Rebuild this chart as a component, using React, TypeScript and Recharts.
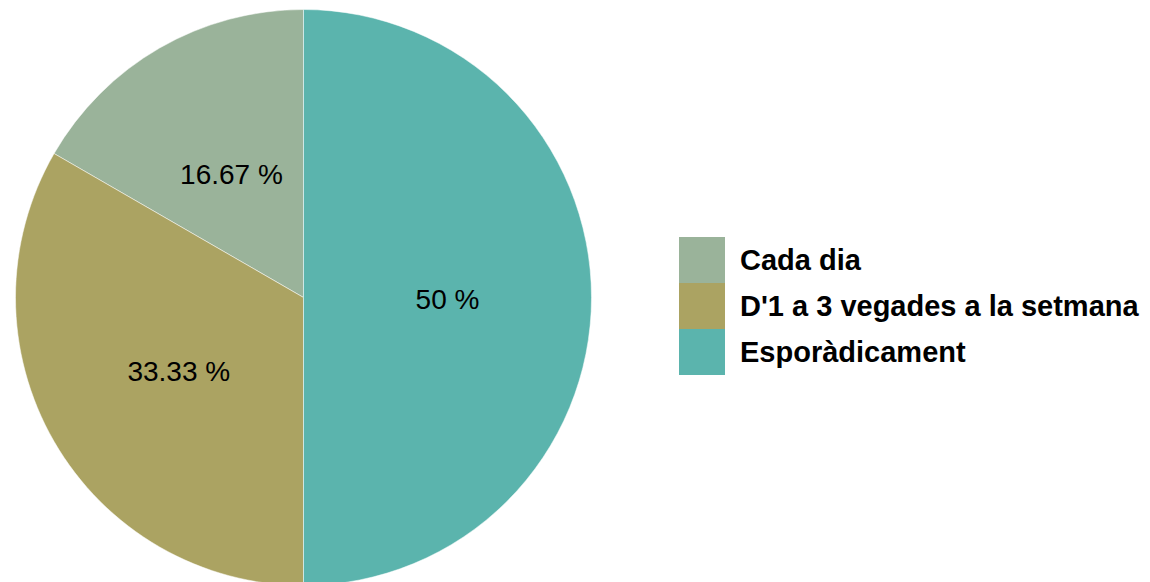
import React from "react";
import { PieChart, Pie, Cell, Legend } from "recharts";

const categories = ["Cada dia", "D'1 a 3 vegades a la setmana", "Esporàdicament"];
const values = [16.67, 33.33, 50];
const valueLabels = ["16.67 %", "33.33 %", "50 %"];
const colors = ["#9AB39A", "#ABA362", "#5BB4AD"];

const data = categories.map((name, i) => ({ name, value: values[i], label: valueLabels[i] }));

const RAD = Math.PI / 180;

const renderLabel = (props: any) => {
  const { cx, cy, midAngle, outerRadius, index } = props;
  const r = outerRadius * 0.5;
  const x = cx + r * Math.cos(-midAngle * RAD);
  const y = cy + r * Math.sin(-midAngle * RAD);
  return (
    <text
      x={x}
      y={y + 2}
      fill="#000"
      textAnchor="middle"
      dominantBaseline="central"
      fontFamily="'Liberation Sans', Arial, sans-serif"
      fontSize={28}
    >
      {valueLabels[index]}
    </text>
  );
};

const renderLegend = () => (
  <div style={{ fontFamily: "'Liberation Sans', Arial, sans-serif" }}>
    {categories.map((c, i) => (
      <div key={c} style={{ display: "flex", alignItems: "center", height: 46 }}>
        <div style={{ width: 46, height: 46, background: colors[i], flexShrink: 0 }} />
        <span style={{ marginLeft: 15, fontSize: 29, fontWeight: "bold", color: "#000", whiteSpace: "nowrap", lineHeight: "46px" }}>{c}</span>
      </div>
    ))}
  </div>
);

export default function App() {
  return (
    <div style={{ position: "absolute", left: 0, top: 0, width: 1150, height: 582, background: "#fff" }}>
      <PieChart width={1150} height={582} margin={{ top: 0, right: 0, bottom: 0, left: 0 }}>
        <Pie
          data={data}
          dataKey="value"
          nameKey="name"
          cx={303.5}
          cy={297.5}
          outerRadius={288}
          startAngle={90}
          endAngle={450}
          stroke="#ffffff"
          strokeWidth={0.5}
          label={renderLabel}
          labelLine={false}
          isAnimationActive={false}
        >
          {data.map((d, i) => (
            <Cell key={d.name} fill={colors[i]} />
          ))}
        </Pie>
        <Legend
          content={renderLegend}
          wrapperStyle={{ position: "absolute", left: 679, top: 237, width: 470 }}
        />
      </PieChart>
    </div>
  );
}
